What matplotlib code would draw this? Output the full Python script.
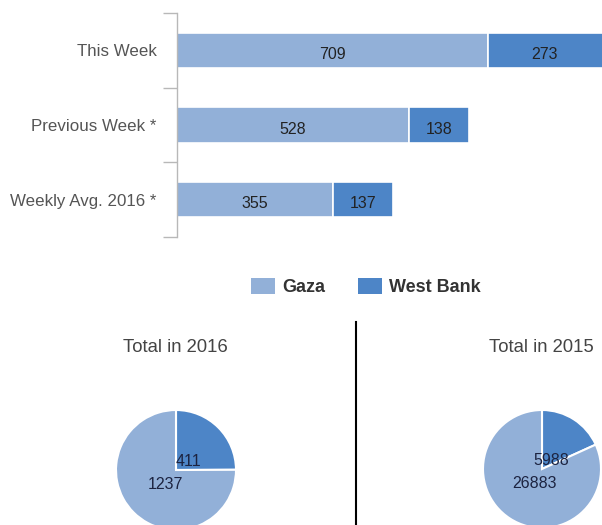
import matplotlib
matplotlib.use("Agg")
import matplotlib.pyplot as plt
from matplotlib.patches import Patch
from matplotlib.lines import Line2D

plt.rcParams["font.family"] = ["Liberation Sans", "DejaVu Sans"]

# data
categories = ["This Week", "Previous Week *", "Weekly Avg. 2016 *"]
gaza = [709, 528, 355]
west_bank = [273, 138, 137]

total_2016 = [411, 1237]   # west bank, gaza
total_2015 = [5988, 26883]

c_gaza = "#92b0d8"
c_wb = "#4d85c7"

W, H = 602, 525
fig = plt.figure(figsize=(W / 100, H / 100), dpi=100)

# bar chart (pixel positions)
ax = fig.add_axes([177 / W, 1 - 237 / H, (W - 177) / W, (237 - 13) / H])
y = list(range(len(categories)))
b1 = ax.barh(y, gaza, height=0.47, color=c_gaza, edgecolor="white", linewidth=1.2)
b2 = ax.barh(y, west_bank, left=gaza, height=0.47, color=c_wb, edgecolor="white", linewidth=1.2)
labs = ax.bar_label(b1, label_type="center", fontsize=11.5, color="#222222")
labs += ax.bar_label(b2, label_type="center", fontsize=11.5, color="#222222")
for t in labs:
    t.xyann = (0, -3)  # numbers sit a little below the middle
ax.set_xlim(0, 969)
ax.set_ylim(2.5, -0.5)
ax.set_yticks(y)
ax.set_yticklabels(categories, fontsize=12.2, color="#555555")
ax.set_yticks([-0.5, 0.5, 1.5, 2.5], minor=True)
ax.tick_params(axis="y", which="major", length=0, pad=14.5)
ax.tick_params(axis="y", which="minor", length=10, width=1, color="#b8b8b8")
ax.set_xticks([])
for s in ["top", "right", "bottom"]:
    ax.spines[s].set_visible(False)
ax.spines["left"].set_color("#b8b8b8")
ax.spines["left"].set_linewidth(1)

# legend
handles = [Patch(facecolor=c_gaza, label="Gaza"), Patch(facecolor=c_wb, label="West Bank")]
fig.legend(handles=handles, loc="center", bbox_to_anchor=(366 / W, 1 - 287 / H), ncol=2,
           frameon=False, prop={"weight": "bold", "size": 13}, labelcolor="#333333",
           handlelength=1.33, handleheight=1.05, handletextpad=0.4, columnspacing=1.8)

# divider
fig.add_artist(Line2D([356 / W, 356 / W], [0, 1 - 322 / H], color="black", lw=1.5))

# pies
def draw_pie(vals, cx, cy, r, title, tx, off):
    fig.text(tx / W, 1 - 348 / H, title, ha="center", va="center", fontsize=13.3, color="#444444")
    pa = fig.add_axes([(cx - r) / W, 1 - (cy + r) / H, 2 * r / W, 2 * r / H])
    pa.pie(vals, colors=[c_wb, c_gaza], startangle=90, counterclock=False, radius=1,
           wedgeprops={"edgecolor": "white", "linewidth": 1.5})
    pa.set_xlim(-1, 1)
    pa.set_ylim(-1, 1)
    for v, (dx, dy) in zip(vals, off):
        pa.text(dx, dy, str(v), ha="center", va="center", fontsize=11.5, color="#1c2340")

draw_pie(total_2016, 176, 470, 60, "Total in 2016", 175, [(0.2, 0.15), (-0.18, -0.24)])
draw_pie(total_2015, 542, 469, 59, "Total in 2015", 541, [(0.16, 0.15), (-0.12, -0.24)])

fig.savefig("out.png", dpi=100)
